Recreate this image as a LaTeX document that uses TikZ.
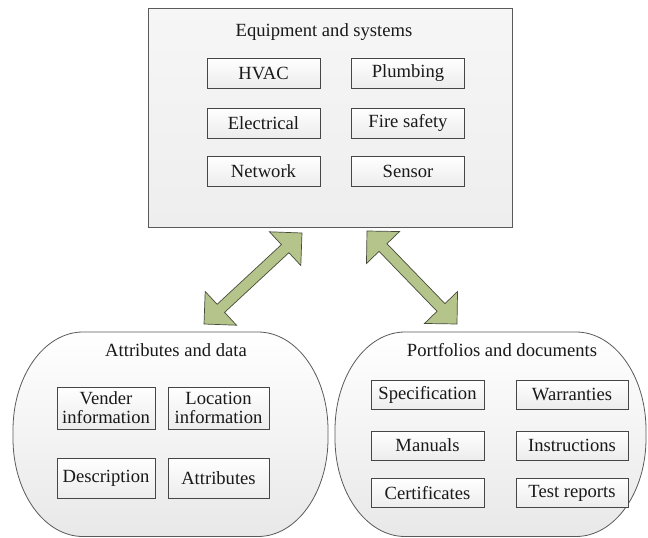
\documentclass[tikz,border=0pt]{standalone}
\usepackage{fontspec}
\setmainfont{Liberation Serif}
\usetikzlibrary{calc}
\definecolor{edgeg}{RGB}{90,90,90}
\definecolor{itemedge}{RGB}{70,70,70}
\definecolor{shadelo}{RGB}{232,232,232}
\definecolor{itemlo}{RGB}{236,236,236}
\definecolor{tophi}{RGB}{246,246,246}
\definecolor{toplo}{RGB}{238,238,238}
\definecolor{arrfill}{RGB}{181,196,138}
\definecolor{arredge}{RGB}{70,75,60}
\definecolor{txt}{RGB}{25,25,25}
\newcommand\fatarrow[2]{%
  \path ($(#1)!23pt!(#2)$) coordinate (hA) ($(#2)!23pt!(#1)$) coordinate (hB);
  \draw[fat] (#1) -- ($(hA)!23pt!90:(#2)$) -- ($(hA)!5.5pt!90:(#2)$)
    -- ($(hB)!5.5pt!-90:(#1)$) -- ($(hB)!23pt!-90:(#1)$) -- (#2)
    -- ($(hB)!23pt!90:(#1)$) -- ($(hB)!5.5pt!90:(#1)$)
    -- ($(hA)!5.5pt!-90:(#2)$) -- ($(hA)!23pt!-90:(#2)$) -- cycle;}
% elliptical-cornered panel: #1 left, #2 top, #3 right, #4 bottom
\newcommand\panel[4]{%
  \draw[outer] (#1+70,#2) -- (#3-70,#2)
    arc[start angle=-90, end angle=0, x radius=70, y radius=98]
    -- (#3,#4-98)
    arc[start angle=0, end angle=90, x radius=70, y radius=98]
    -- (#1+70,#4)
    arc[start angle=90, end angle=180, x radius=70, y radius=98]
    -- (#1,#2+98)
    arc[start angle=180, end angle=270, x radius=70, y radius=98] -- cycle;}
\begin{document}
\begin{tikzpicture}[x=1pt,y=-1pt,
  every node/.style={font=\fontsize{18.6}{19}\selectfont, text=txt},
  outer/.style={draw=edgeg, line width=0.8pt, top color=white,
    bottom color=shadelo, inner sep=0pt},
  item/.style={draw=itemedge, line width=0.7pt, top color=white,
    bottom color=itemlo, inner sep=0pt, align=center},
  topitem/.style={item, minimum width=113pt, minimum height=30pt},
  docitem/.style={item, minimum width=113pt, minimum height=29pt},
  fat/.style={draw=arredge, line width=0.7pt, fill=arrfill, line join=miter}]
\useasboundingbox (0,0) rectangle (648,538);
\fill[white] (0,0) rectangle (648,538);
% top box
\node[outer, top color=tophi, bottom color=toplo,
  minimum width=364pt, minimum height=219pt] (eq) at (330,117.5) {};
\node (eqt) at (324,32) {Equipment and systems};
\node[topitem] (hvac) at (263.5,73) {HVAC};
\node[topitem] (plumb) at (408,73) {Plumbing};
\node[topitem] (elec) at (263.5,123) {Electrical};
\node[topitem] (fire) at (408,123) {Fire safety};
\node[topitem] (net) at (263.5,171) {Network};
\node[topitem] (sens) at (408,171) {Sensor};
% bottom left
\panel{13}{332}{328}{536.5}
\node[minimum width=315pt, minimum height=204pt] (attr) at (170.5,434) {};
\node (attrt) at (176,350) {Attributes and data};
\node[item, minimum width=98pt, minimum height=42pt] (vend) at (106,408)
  {Vender\\information};
\node[item, minimum width=101pt, minimum height=42pt] (loc) at (218.5,408)
  {Location\\information};
\node[item, minimum width=98pt, minimum height=40pt] (desc) at (106,478) {Description};
\node[item, minimum width=101pt, minimum height=40pt] (attb) at (218.5,478) {Attributes};
% bottom right
\panel{335}{332}{646}{536.5}
\node[minimum width=311pt, minimum height=204pt] (port) at (490.5,434) {};
\node (portt) at (502,350) {Portfolios and documents};
\node[docitem] (spec) at (427.5,394.5) {Specification};
\node[docitem, minimum width=112pt] (warr) at (572,394.5) {Warranties};
\node[docitem] (man) at (427.5,445.5) {Manuals};
\node[docitem, minimum width=112pt] (instr) at (572,445.5) {Instructions};
\node[docitem] (cert) at (427.5,493) {Certificates};
\node[docitem, minimum width=112pt] (test) at (572,493) {Test reports};
% arrows
\coordinate (la) at (204,324);
\coordinate (lb) at (302,233);
\coordinate (ra) at (367,231);
\coordinate (rb) at (457,324);
\fatarrow{la}{lb}
\fatarrow{ra}{rb}
\end{tikzpicture}
\end{document}
